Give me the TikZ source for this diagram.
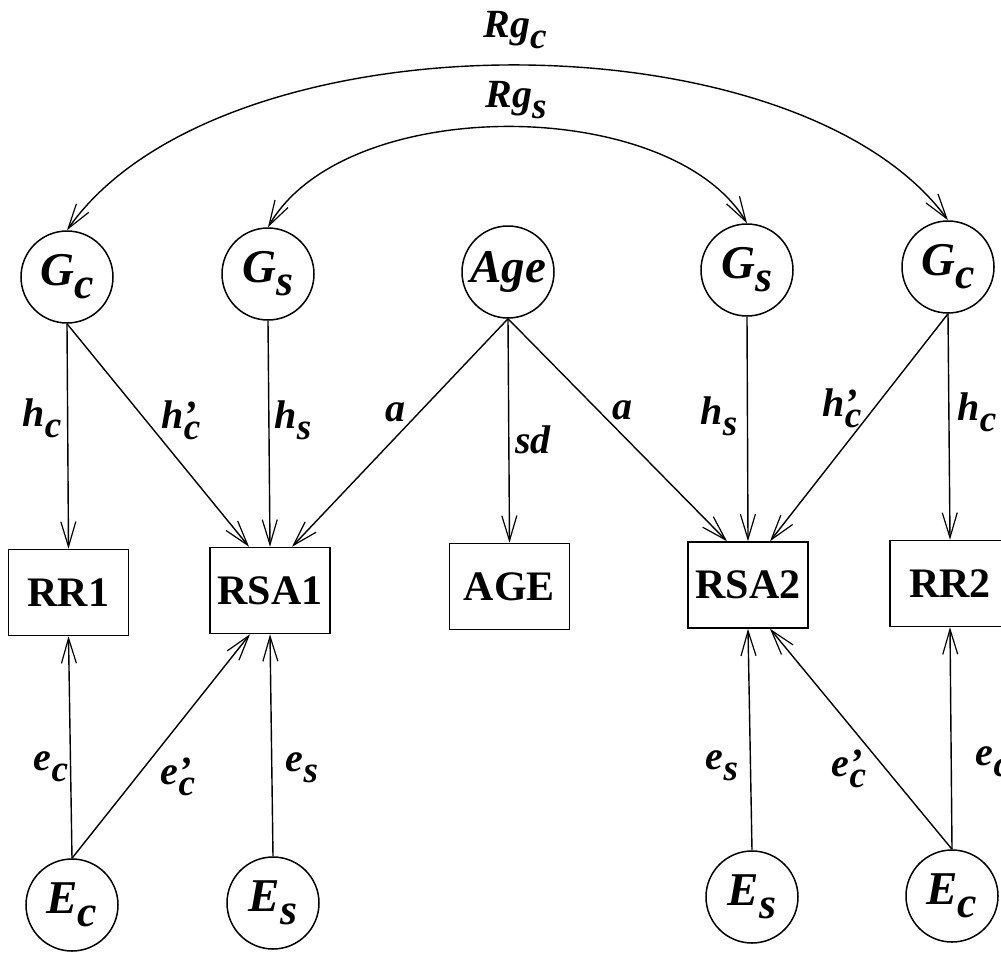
\documentclass[tikz,border=0pt]{standalone}
\usepackage{fontspec}
\setmainfont{Liberation Serif}
\usetikzlibrary{arrows.meta,calc}
\newcommand{\sbs}[2]{#1\raisebox{-0.28em}{\scalebox{0.93}{#2}}}
\newcommand{\sbp}[2]{#1\rlap{’}\raisebox{-0.28em}{\scalebox{0.93}{#2}}}
\begin{document}
\begin{tikzpicture}[x=1pt,y=-1pt,
  latent/.style={circle,draw,line width=1.5pt,minimum size=92pt,inner sep=0pt,font=\fontsize{47}{50}\selectfont\bfseries\itshape},
  obs/.style={rectangle,draw,line width=1.5pt,minimum width=120pt,minimum height=86pt,inner sep=0pt,font=\fontsize{42}{46}\selectfont\bfseries},
  lbl/.style={inner sep=0pt,font=\fontsize{40}{44}\selectfont\bfseries\itshape},
  tip/.tip={Straight Barb[length=25pt,width=15pt,line width=1.2pt]},
  arr/.style={line width=1.4pt,-tip},
  darr/.style={line width=1.4pt,tip-tip}
]
\useasboundingbox (0,0) rectangle (1001,953);
% latent top
\node[latent] (Gc1) at (67,277) {\sbs{G}{c}};
\node[latent] (Gs1) at (268,274) {\sbs{G}{s}};
\node[latent] (Age) at (508,272) {Age};
\node[latent] (Gs2) at (747,270) {\sbs{G}{s}};
\node[latent] (Gc2) at (948,267) {\sbs{G}{c}};
% observed
\node[obs] (RR1) at (68.5,592.5) {RR1};
\node[obs] (RSA1) at (270,590.5) {RSA1};
\node[obs] (AGE) at (509.5,586.5) {AGE};
\node[obs] (RSA2) at (748,585) {RSA2};
\node[obs] (RR2) at (950,583.5) {RR2};
% latent bottom
\node[latent] (Ec1) at (72,905) {\sbs{E}{c}};
\node[latent] (Es1) at (273,903) {\sbs{E}{s}};
\node[latent] (Es2) at (752,897) {\sbs{E}{s}};
\node[latent] (Ec2) at (952,896) {\sbs{E}{c}};
% genetic correlations
\draw[darr] (Gc1.north) .. controls +(153,-218) and +(-153,-208) .. (Gc2.north);
\draw[darr] (Gs1.north) .. controls +(77,-134) and +(-77,-128) .. (Gs2.north);
\node[lbl] (Rgc) at (515,30) {\sbs{Rg}{c}};
\node[lbl] (Rgs) at (516,100) {\sbs{Rg}{s}};
% paths top
\draw[arr] (Gc1.south) -- (RR1.north);
\draw[arr] (Gc1.south) -- ([xshift=-21pt]RSA1.north);
\draw[arr] (Gs1.south) -- (RSA1.north);
\draw[arr] (Age.south) -- ([xshift=22pt]RSA1.north);
\draw[arr] (Age.south) -- (AGE.north);
\draw[arr] (Age.south) -- ([xshift=-21pt]RSA2.north);
\draw[arr] (Gs2.south) -- (RSA2.north);
\draw[arr] (Gc2.south) -- ([xshift=22pt]RSA2.north);
\draw[arr] (Gc2.south) -- (RR2.north);
% paths bottom
\draw[arr] (Ec1.north) -- (RR1.south);
\draw[arr] (Ec1.north) -- ([xshift=-20pt]RSA1.south);
\draw[arr] (Es1.north) -- (RSA1.south);
\draw[arr] (Es2.north) -- (RSA2.south);
\draw[arr] (Ec2.north) -- ([xshift=22pt]RSA2.south);
\draw[arr] (Ec2.north) -- (RR2.south);
% labels
\node[lbl] (l1) at (42,418) {\sbs{h}{c}};
\node[lbl] (l2) at (181,420) {\sbp{h}{c}};
\node[lbl] (l3) at (293,420) {\sbs{h}{s}};
\node[lbl] (l4) at (395,412) {a};
\node[lbl] (l5) at (533,440) {sd};
\node[lbl] (l6) at (622,410) {a};
\node[lbl] (l7) at (719,416) {\sbs{h}{s}};
\node[lbl] (l8) at (842,408) {\sbp{h}{c}};
\node[lbl] (l9) at (977,412) {\sbs{h}{c}};
\node[lbl] (m1) at (51,767) {\sbs{e}{c}};
\node[lbl] (m2) at (178,777) {\sbp{e}{c}};
\node[lbl] (m3) at (302,768) {\sbs{e}{s}};
\node[lbl] (m4) at (722,766) {\sbs{e}{s}};
\node[lbl] (m5) at (849,769) {\sbp{e}{c}};
\node[lbl] (m6) at (993,762) {\sbs{e}{c}};
\end{tikzpicture}
\end{document}
